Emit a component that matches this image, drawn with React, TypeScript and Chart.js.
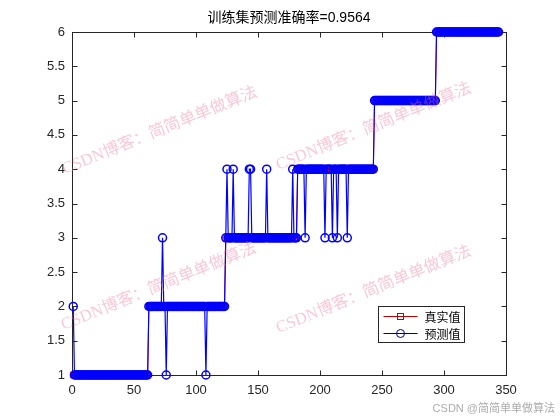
import React, { useEffect, useRef } from 'react';
import { Chart, registerables } from 'chart.js';

Chart.register(...registerables);

const titleText = '训练集预测准确率=0.9564';
const legendLabels = ['真实值', '预测值'];
const watermarkText = 'CSDN博客：简简单单做算法';
const creditText = 'CSDN @简简单单做算法';

const xTicks = [0, 50, 100, 150, 200, 250, 300, 350];
const yTicks = [1, 1.5, 2, 2.5, 3, 3.5, 4, 4.5, 5, 5.5, 6];

// true class of consecutive training samples: [class, number of samples]
const trueRuns: [number, number][] = [
  [1, 61],
  [2, 62],
  [3, 58],
  [4, 62],
  [5, 50],
  [6, 51],
];

// misclassified samples (sample number) and the class that was predicted
const wrongSamples = [1, 73, 76, 108, 125, 130, 143, 144, 157, 178, 188, 204, 210, 214, 222];
const wrongPredicted = [2, 3, 1, 1, 4, 4, 4, 4, 4, 4, 3, 3, 3, 3, 3];

function buildSeries() {
  const truth: { x: number; y: number }[] = [];
  let n = 1;
  for (const [cls, count] of trueRuns) {
    for (let i = 0; i < count; i++) {
      truth.push({ x: n, y: cls });
      n++;
    }
  }
  const pred = truth.map((p) => {
    const k = wrongSamples.indexOf(p.x);
    return { x: p.x, y: k >= 0 ? wrongPredicted[k] : p.y };
  });
  return { truth, pred };
}

const AXIS = '#262626';
const RED = '#ff0000';
const BLUE = '#0000ff';

const decorPlugin = {
  id: 'matlabDecor',
  beforeDatasetsDraw(chart: any) {
    const { ctx, chartArea: a, scales } = chart;
    ctx.save();
    ctx.strokeStyle = AXIS;
    ctx.lineWidth = 1;
    const l = Math.round(a.left) + 0.5;
    const t = Math.round(a.top) + 0.5;
    const r = Math.round(a.right) + 0.5;
    const b = Math.round(a.bottom) + 0.5;
    ctx.strokeRect(l, t, r - l, b - t);
    const tl = 5;
    ctx.beginPath();
    for (const v of xTicks) {
      const px = Math.round(scales.x.getPixelForValue(v)) + 0.5;
      ctx.moveTo(px, b);
      ctx.lineTo(px, b - tl);
      ctx.moveTo(px, t);
      ctx.lineTo(px, t + tl);
    }
    for (const v of yTicks) {
      const py = Math.round(scales.y.getPixelForValue(v)) + 0.5;
      ctx.moveTo(l, py);
      ctx.lineTo(l + tl, py);
      ctx.moveTo(r, py);
      ctx.lineTo(r - tl, py);
    }
    ctx.stroke();
    ctx.restore();
  },
  afterDatasetsDraw(chart: any) {
    const { ctx } = chart;
    ctx.save();
    // legend box
    const bx = 378.5;
    const by = 306.5;
    const bw = 86;
    const bh = 36;
    ctx.fillStyle = '#ffffff';
    ctx.fillRect(bx, by, bw, bh);
    ctx.strokeStyle = AXIS;
    ctx.lineWidth = 1;
    ctx.strokeRect(bx, by, bw, bh);
    const rows = [by + 9, by + 26];
    const colors = ['#c00000', '#00008b'];
    for (let i = 0; i < 2; i++) {
      const y = Math.round(rows[i]) + 0.5;
      ctx.strokeStyle = colors[i];
      ctx.lineWidth = 1;
      ctx.beginPath();
      ctx.moveTo(bx + 5, y);
      ctx.lineTo(bx + 39, y);
      ctx.stroke();
      if (i === 0) {
        ctx.strokeRect(bx + 22 - 3, y - 3, 6, 6);
      } else {
        ctx.beginPath();
        ctx.arc(bx + 22, y, 4, 0, Math.PI * 2);
        ctx.stroke();
      }
      ctx.fillStyle = '#000000';
      ctx.font = "12px 'Noto Sans CJK SC', sans-serif";
      ctx.textBaseline = 'middle';
      ctx.textAlign = 'left';
      ctx.fillText(legendLabels[i], bx + 46, y + 0.5);
    }
    ctx.restore();
  },
  afterDraw(chart: any) {
    const { ctx, chartArea: a } = chart;
    ctx.save();
    // title
    ctx.fillStyle = '#000000';
    ctx.font = "14px 'Liberation Sans', 'Noto Sans CJK SC', sans-serif";
    ctx.textAlign = 'center';
    ctx.textBaseline = 'middle';
    ctx.fillText(titleText, (a.left + a.right) / 2, 18);
    // watermarks
    const spots = [
      [63, 170],
      [277, 166],
      [62, 326],
      [277, 329],
    ];
    ctx.fillStyle = 'rgba(240, 110, 150, 0.38)';
    ctx.font = "16.5px 'Liberation Serif', 'Noto Sans CJK SC', serif";
    ctx.textAlign = 'left';
    ctx.textBaseline = 'middle';
    for (const [x, y] of spots) {
      ctx.save();
      ctx.translate(x, y);
      ctx.rotate((-22 * Math.PI) / 180);
      ctx.fillText(watermarkText, 0, 0);
      ctx.restore();
    }
    // credit
    ctx.fillStyle = 'rgba(150, 150, 150, 0.8)';
    ctx.font = "11px 'Liberation Sans', 'Noto Sans CJK SC', sans-serif";
    ctx.textAlign = 'right';
    ctx.textBaseline = 'middle';
    ctx.fillText(creditText, 555, 409);
    ctx.restore();
  },
};

export default function App() {
  const ref = useRef<HTMLCanvasElement | null>(null);

  useEffect(() => {
    if (!ref.current) return;
    const { truth, pred } = buildSeries();
    const chart = new Chart(ref.current, {
      type: 'line',
      data: {
        datasets: [
          {
            label: legendLabels[1],
            data: pred,
            borderColor: BLUE,
            borderWidth: 1.2,
            pointStyle: 'circle',
            pointRadius: 4,
            pointBorderWidth: 1.5,
            pointBorderColor: BLUE,
            pointBackgroundColor: 'rgba(0,0,0,0)',
            backgroundColor: 'rgba(0,0,0,0)',
            tension: 0,
            clip: false as any,
            order: 0,
          },
          {
            label: legendLabels[0],
            data: truth,
            borderColor: RED,
            borderWidth: 1,
            pointStyle: 'rect',
            pointRadius: 4,
            pointBorderWidth: 1,
            pointBorderColor: RED,
            pointBackgroundColor: 'rgba(0,0,0,0)',
            backgroundColor: 'rgba(0,0,0,0)',
            tension: 0,
            clip: false as any,
            order: 1,
          },
        ],
      },
      options: {
        responsive: false,
        animation: false,
        devicePixelRatio: 1,
        layout: { padding: { left: 0, right: 54, top: 32, bottom: 0 } },
        plugins: {
          legend: { display: false },
          title: { display: false },
          tooltip: { enabled: false },
        },
        scales: {
          x: {
            type: 'linear',
            min: 0,
            max: 350,
            afterBuildTicks: (s: any) => {
              s.ticks = xTicks.map((v) => ({ value: v }));
            },
            afterFit: (s: any) => {
              s.height = 45;
            },
            grid: { display: false, drawTicks: false },
            border: { display: false },
            ticks: {
              color: AXIS,
              padding: 8,
              maxRotation: 0,
              autoSkip: false,
              callback: (v: any) => String(v),
              font: { family: "'Liberation Sans', Arial, sans-serif", size: 13 },
            },
          },
          y: {
            type: 'linear',
            min: 1,
            max: 6,
            afterBuildTicks: (s: any) => {
              s.ticks = yTicks.map((v) => ({ value: v }));
            },
            afterFit: (s: any) => {
              s.width = 72;
            },
            grid: { display: false, drawTicks: false },
            border: { display: false },
            ticks: {
              color: AXIS,
              padding: 7,
              autoSkip: false,
              callback: (v: any) => String(v),
              font: { family: "'Liberation Sans', Arial, sans-serif", size: 13 },
            },
          },
        },
      },
      plugins: [decorPlugin],
    });
    return () => chart.destroy();
  }, []);

  return (
    <div style={{ position: 'fixed', left: 0, top: 0, width: 560, height: 420, background: '#ffffff' }}>
      <canvas ref={ref} width={560} height={420} style={{ width: 560, height: 420, display: 'block' }} />
    </div>
  );
}
